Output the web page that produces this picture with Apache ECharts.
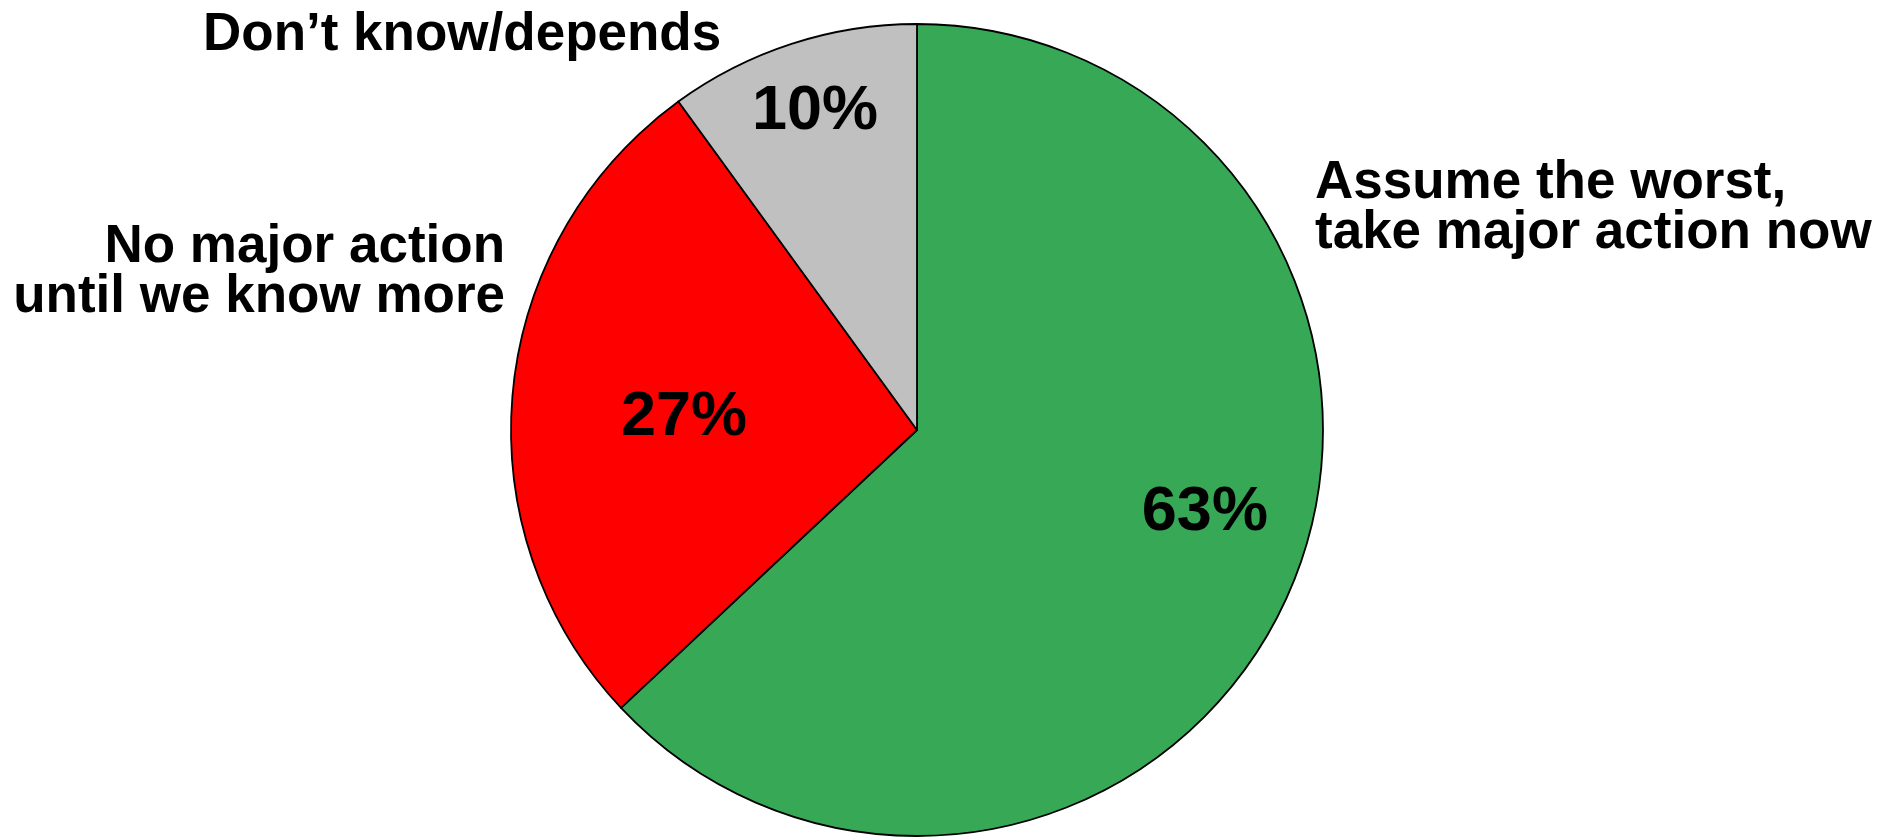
<!DOCTYPE html>
<html>
<head>
<meta charset="utf-8">
<script src="https://cdn.jsdelivr.net/npm/echarts@6/dist/echarts.min.js"></script>
<style>
  html, body { margin: 0; padding: 0; background: #fff; }
  #chart { width: 1891px; height: 837px; }
</style>
</head>
<body>
<div id="chart"></div>
<script>
// pie data, clockwise from 12 o'clock
var categories = ['Assume the worst,\ntake major action now', 'No major action\nuntil we know more', 'Don\u2019t know/depends'];
var shares = [63, 27, 10];
var colors = ['#37a856', '#ff0000', '#c0c0c0'];

var FONT = '"Liberation Sans", Arial, sans-serif';
var cx = 917, cy = 430, r = 406;
// where each percent label sits, as offset from centre in radius units
var labelOffset = [[0.709, 0.204], [-0.574, -0.03], [-0.251, -0.785]];

var chart = echarts.init(document.getElementById('chart'));

var option = {
    animation: false,
    graphic: [
        {   // Don't know/depends
            type: 'text', x: 203, y: 9,
            style: { text: categories[2], font: 'bold 53px ' + FONT, fill: '#000' }
        },
        {   // Assume the worst
            type: 'text', x: 1315, y: 158,
            style: { text: categories[0], font: 'bold 53px ' + FONT, fill: '#000', lineHeight: 50 }
        },
        {   // No major action
            type: 'text', x: 505, y: 222,
            style: { text: categories[1], font: 'bold 53px ' + FONT, fill: '#000', lineHeight: 50, align: 'right' }
        }
    ],
    series: [
        {
            type: 'pie',
            center: [cx, cy],
            radius: r,
            startAngle: 90,
            clockwise: true,
            silent: true,
            itemStyle: { borderColor: '#000', borderWidth: 1.8 },
            label: {
                position: 'inside',
                formatter: '{c}%',
                color: '#000',
                fontFamily: FONT,
                fontWeight: 'bold',
                fontSize: 63
            },
            labelLine: { show: false },
            labelLayout: function (p) {
                var o = labelOffset[p.dataIndex];
                return { x: cx + o[0] * r, y: cy + o[1] * r, align: 'center', verticalAlign: 'middle' };
            },
            data: shares.map(function (v, i) {
                return { name: categories[i], value: v, itemStyle: { color: colors[i] } };
            })
        }
    ]
};

chart.setOption(option);
</script>
</body>
</html>
